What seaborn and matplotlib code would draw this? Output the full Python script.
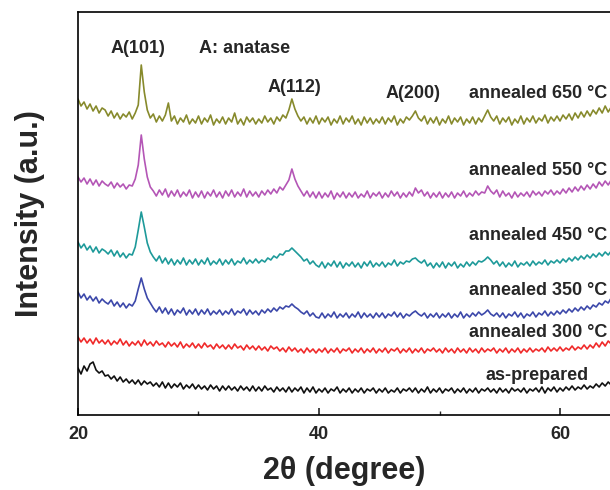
import numpy as np
import pandas as pd
import matplotlib
matplotlib.use("Agg")
import matplotlib.pyplot as plt
import seaborn as sns

# 2-theta positions (degree)
two_theta = [
    20.0, 20.25, 20.5, 20.75, 21.0, 21.25, 21.5, 21.75, 22.0, 22.25,
    22.5, 22.75, 23.0, 23.25, 23.5, 23.75, 24.0, 24.25, 24.5, 24.75,
    25.0, 25.25, 25.5, 25.75, 26.0, 26.25, 26.5, 26.75, 27.0, 27.25,
    27.5, 27.75, 28.0, 28.25, 28.5, 28.75, 29.0, 29.25, 29.5, 29.75,
    30.0, 30.25, 30.5, 30.75, 31.0, 31.25, 31.5, 31.75, 32.0, 32.25,
    32.5, 32.75, 33.0, 33.25, 33.5, 33.75, 34.0, 34.25, 34.5, 34.75,
    35.0, 35.25, 35.5, 35.75, 36.0, 36.25, 36.5, 36.75, 37.0, 37.25,
    37.5, 37.75, 38.0, 38.25, 38.5, 38.75, 39.0, 39.25, 39.5, 39.75,
    40.0, 40.25, 40.5, 40.75, 41.0, 41.25, 41.5, 41.75, 42.0, 42.25,
    42.5, 42.75, 43.0, 43.25, 43.5, 43.75, 44.0, 44.25, 44.5, 44.75,
    45.0, 45.25, 45.5, 45.75, 46.0, 46.25, 46.5, 46.75, 47.0, 47.25,
    47.5, 47.75, 48.0, 48.25, 48.5, 48.75, 49.0, 49.25, 49.5, 49.75,
    50.0, 50.25, 50.5, 50.75, 51.0, 51.25, 51.5, 51.75, 52.0, 52.25,
    52.5, 52.75, 53.0, 53.25, 53.5, 53.75, 54.0, 54.25, 54.5, 54.75,
    55.0, 55.25, 55.5, 55.75, 56.0, 56.25, 56.5, 56.75, 57.0, 57.25,
    57.5, 57.75, 58.0, 58.25, 58.5, 58.75, 59.0, 59.25, 59.5, 59.75,
    60.0, 60.25, 60.5, 60.75, 61.0, 61.25, 61.5, 61.75, 62.0, 62.25,
    62.5, 62.75, 63.0, 63.25, 63.5, 63.75, 64.0, 64.25, 64.5]

# intensities (a.u., vertically offset as in the figure)
annealed_650 = [
    316, 309, 313, 306, 311, 304, 309, 302, 307, 305,
    299, 304, 297, 302, 296, 301, 298, 303, 296, 302,
    310, 350, 323, 305, 297, 301, 293, 299, 294, 300,
    312, 294, 299, 291, 297, 293, 300, 291, 296, 292,
    299, 291, 297, 293, 300, 290, 296, 292, 298, 291,
    297, 293, 302, 291, 296, 290, 298, 293, 297, 291,
    296, 292, 299, 293, 297, 291, 298, 294, 300, 297,
    305, 316, 306, 299, 294, 298, 291, 297, 292, 299,
    291, 297, 293, 298, 290, 296, 292, 299, 291, 297,
    293, 299, 291, 296, 290, 298, 292, 297, 291, 296,
    292, 298, 291, 297, 293, 299, 290, 296, 292, 298,
    295, 299, 304, 297, 294, 299, 291, 297, 292, 298,
    290, 296, 292, 299, 291, 297, 293, 298, 290, 296,
    292, 298, 291, 297, 293, 299, 305, 298, 294, 299,
    291, 297, 293, 298, 290, 296, 292, 299, 291, 297,
    293, 299, 292, 297, 294, 300, 292, 298, 294, 299,
    294, 300, 296, 301, 295, 302, 297, 303, 298, 304,
    299, 305, 301, 307, 302, 309, 303, 308, 305]
annealed_550 = [
    238, 233, 237, 231, 236, 230, 235, 229, 234, 231,
    229, 233, 227, 232, 228, 231, 226, 230, 229, 236,
    250, 280, 256, 238, 228, 224, 219, 225, 220, 226,
    218, 224, 219, 225, 218, 223, 219, 225, 217, 223,
    218, 224, 217, 223, 219, 225, 218, 223, 217, 224,
    219, 225, 218, 223, 219, 226, 218, 224, 219, 223,
    218, 224, 220, 225, 221, 226, 222, 228, 225, 230,
    235, 246, 236, 229, 224, 219, 224, 218, 223, 217,
    223, 217, 222, 218, 224, 216, 222, 218, 223, 217,
    222, 218, 223, 217, 221, 218, 224, 217, 222, 219,
    223, 217, 222, 218, 224, 219, 223, 217, 222, 218,
    223, 219, 227, 222, 225, 219, 223, 217, 222, 218,
    223, 217, 222, 218, 223, 217, 222, 219, 224, 218,
    222, 219, 224, 220, 223, 222, 229, 224, 221, 225,
    218, 224, 219, 222, 217, 223, 218, 222, 219, 223,
    218, 224, 220, 223, 219, 224, 221, 225, 220, 224,
    221, 226, 222, 227, 223, 228, 224, 229, 225, 230,
    226, 231, 227, 233, 229, 234, 230, 235, 232]
annealed_450 = [
    173, 167, 171, 165, 169, 163, 168, 162, 166, 164,
    161, 165, 159, 164, 158, 162, 157, 161, 160, 168,
    185, 203, 188, 172, 163, 158, 154, 159, 152, 157,
    151, 156, 150, 155, 151, 157, 150, 155, 151, 156,
    150, 155, 151, 157, 150, 154, 151, 156, 150, 155,
    151, 156, 150, 154, 152, 157, 151, 155, 152, 156,
    152, 155, 153, 157, 155, 159, 157, 161, 160, 164,
    164, 167, 164, 161, 158, 154, 156, 151, 154, 150,
    148, 153, 147, 152, 149, 154, 148, 153, 147, 152,
    149, 153, 148, 152, 147, 153, 149, 154, 148, 152,
    149, 153, 148, 152, 150, 155, 149, 153, 151, 154,
    153, 156, 157, 154, 152, 155, 149, 152, 147, 152,
    148, 153, 147, 152, 149, 153, 147, 151, 148, 153,
    149, 153, 150, 154, 153, 155, 158, 155, 151, 154,
    149, 153, 148, 152, 149, 154, 148, 152, 150, 153,
    149, 154, 150, 153, 151, 155, 150, 154, 152, 155,
    152, 156, 153, 157, 154, 158, 155, 159, 156, 160,
    157, 161, 158, 162, 159, 163, 160, 164, 162]
annealed_350 = [
    123, 117, 121, 115, 119, 114, 118, 112, 116, 113,
    111, 115, 109, 113, 108, 112, 107, 111, 109, 114,
    126, 137, 126, 117, 112, 107, 103, 108, 102, 107,
    101, 106, 100, 105, 102, 107, 100, 105, 101, 106,
    100, 105, 101, 106, 100, 104, 101, 105, 100, 104,
    101, 106, 100, 104, 102, 106, 100, 105, 101, 104,
    100, 105, 102, 106, 103, 107, 104, 108, 106, 109,
    108, 111, 108, 106, 103, 101, 104, 99, 102, 98,
    97, 102, 97, 101, 98, 103, 97, 101, 98, 102,
    97, 101, 98, 103, 97, 102, 98, 101, 97, 102,
    98, 102, 97, 101, 99, 103, 98, 102, 97, 101,
    99, 102, 104, 101, 99, 102, 97, 101, 98, 102,
    97, 101, 98, 102, 97, 101, 98, 103, 97, 101,
    98, 102, 99, 103, 100, 102, 105, 101, 99, 102,
    98, 102, 97, 101, 99, 103, 98, 102, 97, 101,
    99, 103, 98, 102, 100, 104, 99, 103, 100, 104,
    101, 105, 102, 106, 103, 107, 104, 108, 105, 109,
    106, 110, 108, 112, 110, 114, 112, 117, 116]
annealed_300 = [
    78, 73, 77, 72, 76, 71, 77, 72, 75, 71,
    75, 70, 74, 71, 76, 70, 74, 69, 73, 70,
    74, 69, 75, 70, 73, 69, 74, 70, 72, 68,
    73, 69, 72, 68, 73, 67, 71, 68, 72, 67,
    71, 67, 72, 68, 70, 66, 71, 67, 70, 66,
    70, 66, 71, 67, 69, 65, 70, 66, 69, 65,
    69, 65, 68, 64, 69, 66, 68, 64, 67, 63,
    68, 64, 67, 63, 66, 62, 67, 63, 66, 62,
    66, 63, 67, 62, 66, 63, 67, 62, 66, 64,
    67, 62, 66, 63, 67, 62, 66, 63, 67, 62,
    66, 63, 67, 62, 66, 64, 67, 62, 66, 63,
    67, 62, 66, 63, 67, 62, 66, 64, 67, 63,
    66, 62, 67, 63, 66, 62, 67, 63, 66, 62,
    67, 63, 66, 62, 67, 63, 66, 64, 67, 62,
    66, 63, 67, 62, 66, 63, 67, 62, 66, 63,
    67, 63, 66, 64, 67, 63, 68, 64, 67, 64,
    68, 64, 67, 65, 69, 65, 68, 66, 70, 66,
    70, 67, 72, 68, 73, 69, 74, 71, 75]
as_prepared = [
    47, 41, 49, 44, 51, 53, 45, 42, 44, 39,
    40, 36, 39, 34, 38, 33, 36, 32, 35, 31,
    35, 30, 34, 31, 33, 29, 32, 28, 33, 27,
    32, 27, 31, 28, 32, 26, 30, 27, 31, 26,
    30, 26, 29, 25, 30, 26, 29, 24, 29, 25,
    29, 25, 28, 24, 29, 25, 28, 24, 29, 24,
    28, 24, 29, 25, 27, 23, 28, 24, 27, 23,
    28, 23, 27, 24, 28, 22, 27, 23, 28, 22,
    26, 23, 27, 22, 26, 24, 28, 22, 26, 23,
    27, 22, 26, 23, 27, 22, 26, 24, 27, 22,
    26, 23, 27, 22, 25, 23, 27, 22, 26, 24,
    27, 23, 27, 22, 26, 23, 28, 22, 26, 23,
    27, 22, 26, 24, 27, 22, 26, 23, 27, 22,
    26, 23, 27, 22, 26, 24, 27, 23, 26, 22,
    27, 23, 26, 22, 27, 24, 26, 23, 27, 22,
    26, 24, 27, 23, 28, 22, 27, 24, 28, 23,
    27, 24, 28, 25, 29, 25, 28, 26, 30, 26,
    29, 27, 31, 28, 32, 29, 33, 30, 34]

series_names = ["annealed 650", "annealed 550", "annealed 450",
                "annealed 350", "annealed 300", "as-prepared"]
series_values = [annealed_650, annealed_550, annealed_450,
                 annealed_350, annealed_300, as_prepared]
series_colors = ["#878a2c", "#b456b6", "#1e9a9a", "#3c48aa", "#f02a2a", "#111111"]

peak_labels = [("A(101)", 25.0, 367), ("A: anatase", 33.8, 367),
               ("A(112)", 38.0, 328), ("A(200)", 47.8, 322)]
curve_labels = [("annealed 650 °C", 322), ("annealed 550 °C", 245),
                ("annealed 450 °C", 180), ("annealed 350 °C", 125),
                ("annealed 300 °C", 83), ("as-prepared", 40)]

rows = []
for name, vals in zip(series_names, series_values):
    for t, v in zip(two_theta, vals):
        rows.append({"two_theta": t, "intensity": v, "sample": name})
df = pd.DataFrame(rows)

sns.set_theme(style="white")
plt.rcParams["font.family"] = ["Liberation Sans", "DejaVu Sans"]
plt.rcParams["font.weight"] = "bold"

fig = plt.figure(figsize=(6.1, 4.9), dpi=100)
ax = fig.add_axes([78 / 610, 75 / 490, 1 - 78 / 610, (415 - 12) / 490])

sns.lineplot(data=df, x="two_theta", y="intensity", hue="sample",
             hue_order=series_names, palette=series_colors,
             estimator=None, sort=False, legend=False, linewidth=1.2, ax=ax)

ax.set_xlim(20, 20 + 532 / 12.05)
ax.set_ylim(0, 403)
ax.set_xticks([20, 40, 60])
ax.set_xticks([30, 50], minor=True)
ax.set_yticks([])
ax.tick_params(axis="x", which="major", direction="in", length=5, width=1.2,
               labelsize=13, pad=8, bottom=True)
ax.tick_params(axis="x", which="minor", direction="in", length=3, width=1.0,
               bottom=True)
for lab in ax.get_xticklabels():
    lab.set_fontweight("bold")
for side in ["left", "bottom", "top"]:
    ax.spines[side].set_color("black")
    ax.spines[side].set_linewidth(1.2)
ax.spines["right"].set_visible(False)

ax.set_xlabel("2θ (degree)", fontsize=22, fontweight="bold", labelpad=9)
ax.set_ylabel("Intensity (a.u.)", fontsize=22, fontweight="bold", labelpad=24)

for txt, x, y in peak_labels:
    ax.text(x, y, txt, ha="center", va="center", fontsize=13, fontweight="bold")
for txt, y in curve_labels:
    xr = 63.9 if txt != "as-prepared" else 62.4
    ax.text(xr, y, txt, ha="right", va="center", fontsize=13, fontweight="bold")

fig.savefig("out.png", dpi=100)
